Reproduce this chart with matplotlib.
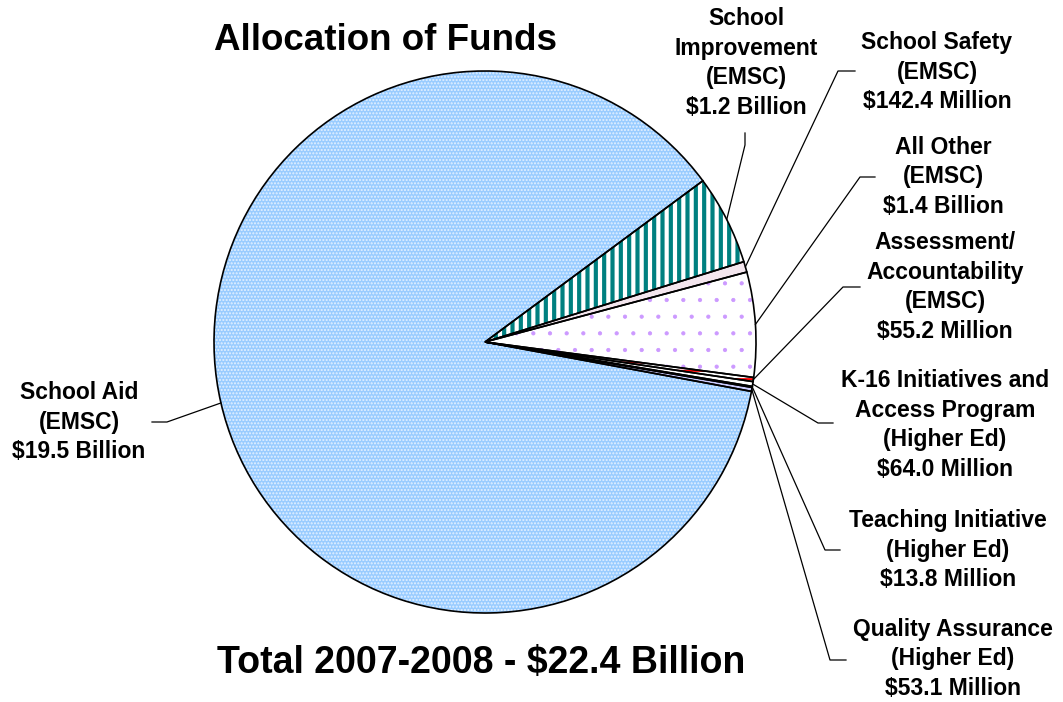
import numpy as np
import matplotlib.pyplot as plt

plt.rcParams['font.family'] = ['Liberation Sans', 'DejaVu Sans']
plt.rcParams['font.weight'] = 'bold'

# 2007-2008 allocation, in billions of dollars
labels = ["School\nImprovement\n(EMSC)\n$1.2 Billion",
          "School Safety\n(EMSC)\n$142.4 Million",
          "All Other\n(EMSC)\n$1.4 Billion",
          "Assessment/\nAccountability\n(EMSC)\n$55.2 Million",
          "K-16 Initiatives and\nAccess Program\n(Higher Ed)\n$64.0 Million",
          "Teaching Initiative\n(Higher Ed)\n$13.8 Million",
          "Quality Assurance\n(Higher Ed)\n$53.1 Million",
          "School Aid\n(EMSC)\n$19.5 Billion"]
amounts = [1.2, 0.1424, 1.4, 0.0552, 0.0640, 0.0138, 0.0531, 19.5]

face = ['white', '#F4E6EE', 'white', 'white', 'white', '#E6EEF8', '#CCCCFF', '#99CCFF']
hatch_col = ['#008080', '#A0668C', '#CC99FF', '#FF0000', '#3399FF', '#3399FF', '#CCCCFF', '#E4F1FF']
hatches = ['||', '', '.', '--', '', '', '', '.....']
hatch_lw = [3.0, 1.0, 0.6, 1.5, 1.0, 1.0, 1.0, 1.0]

W, H = 1063, 702
fig = plt.figure(figsize=(W / 100, H / 100), dpi=100)
ax = fig.add_axes([0, 0, 1, 1])

cx, cy, r = 485, H - 342, 271
start = 36.5

# fill + hatch pass, then outline pass
wedges, _ = ax.pie(amounts, center=(cx, cy), radius=r, startangle=start,
                   counterclock=False, colors=face,
                   wedgeprops=dict(linewidth=0), frame=True)
for w, hc, h, lw in zip(wedges, hatch_col, hatches, hatch_lw):
    w.set_edgecolor(hc)
    w.set_hatch(h)
    if hasattr(w, 'set_hatch_linewidth'):
        w.set_hatch_linewidth(lw)
ax.pie(amounts, center=(cx, cy), radius=r, startangle=start,
       counterclock=False, colors=['none'] * len(amounts),
       wedgeprops=dict(linewidth=1.2, edgecolor='black'), frame=True)
ax.set_xlim(0, W)
ax.set_ylim(0, H)
ax.set_aspect('equal')
ax.axis('off')

# label centres and leader elbows (pixel coords, y from top)
text_pos = [(746, 63), (937, 72), (943, 177), (945, 287),
            (945, 425), (948, 550), (953, 659), (79, 422)]
elbow = [[(745, 145), (745, 133)],
         [(838, 71), (855, 71)],
         [(860, 177), (875, 177)],
         [(843, 287), (860, 287)],
         [(818, 423), (833, 423)],
         [(825, 550), (840, 550)],
         [(830, 660), (846, 660)],
         [(167, 422), (152, 422)]]

for w, lab, (tx, ty), el in zip(wedges, labels, text_pos, elbow):
    mid = np.deg2rad((w.theta1 + w.theta2) / 2)
    ax0 = cx + r * np.cos(mid)
    ay0 = cy + r * np.sin(mid)
    xs = [ax0] + [p[0] for p in el]
    ys = [ay0] + [H - p[1] for p in el]
    ax.plot(xs, ys, color='black', lw=0.9)
    ax.text(tx, H - ty, lab, ha='center', va='center', fontsize=16.5,
            fontweight='bold', linespacing=1.38)

ax.text(385, H - 40, "Allocation of Funds", ha='center', va='center',
        fontsize=26.5, fontweight='bold')
ax.text(481, H - 663, "Total 2007-2008 - $22.4 Billion", ha='center', va='center',
        fontsize=27, fontweight='bold')

fig.savefig('out.png', dpi=100)
